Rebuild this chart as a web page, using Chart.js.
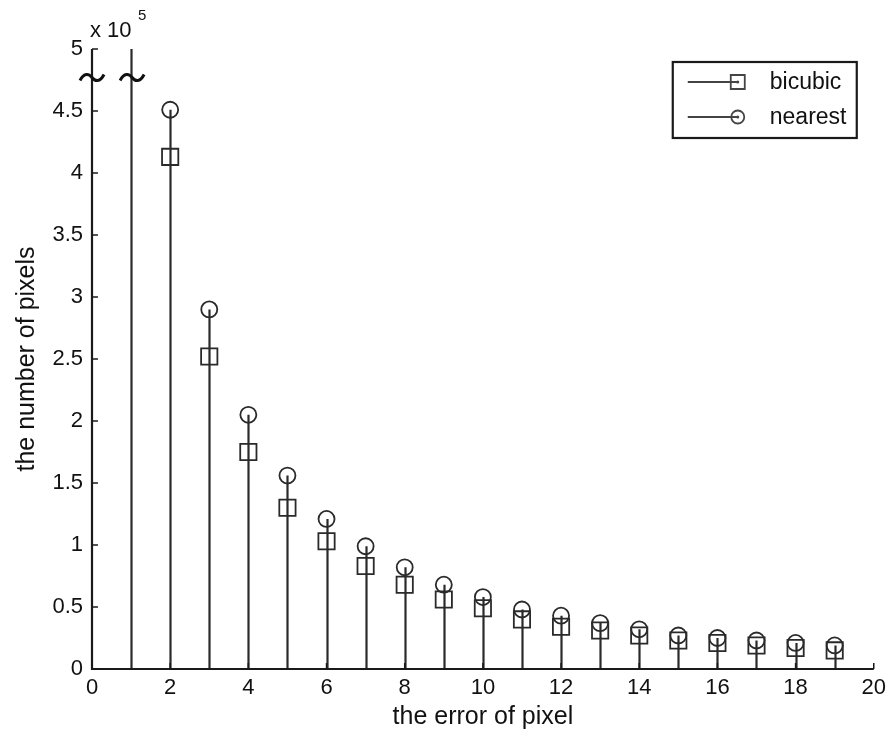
<!DOCTYPE html>
<html>
<head>
<meta charset="utf-8">
<script src="https://cdn.jsdelivr.net/npm/chart.js@4.4.0/dist/chart.umd.min.js"></script>
<style>
  html, body { margin: 0; padding: 0; background: #fff; }
</style>
</head>
<body>
<canvas id="myChart" width="892" height="740"></canvas>
<script>
// error of pixel (x) and pixel counts; x = 1 is off the scale (axis is broken)
const errors = [1, 2, 3, 4, 5, 6, 7, 8, 9, 10, 11, 12, 13, 14, 15, 16, 17, 18, 19];
const bicubic = [700000, 413000, 252000, 175000, 130000, 103000, 83000, 68000, 56000, 49000,
  40000, 34000, 31000, 27000, 23000, 21000, 19000, 17000, 15000];
const nearest = [700000, 451000, 290000, 205000, 156000, 121000, 99000, 82000, 68000, 58000,
  48000, 43000, 37000, 32000, 27000, 25000, 23000, 21000, 19000];
const xTicks = [0, 2, 4, 6, 8, 10, 12, 14, 16, 18, 20];
const yTicks = [0, 50000, 100000, 150000, 200000, 250000, 300000, 350000, 400000, 450000, 500000];
const breakAt = 477000;

const FONT = "'Liberation Sans', Arial, sans-serif";
const INK = '#1a1a1a';

const toPoints = vals => errors.map((e, i) => ({ x: e, y: vals[i] }));

// stems from zero up to the highest marker
const stems = {
  id: 'stems',
  beforeDatasetsDraw(chart) {
    const { ctx, chartArea, scales: { x, y } } = chart;
    ctx.save();
    ctx.beginPath();
    ctx.rect(chartArea.left, chartArea.top, chartArea.right - chartArea.left, chartArea.bottom - chartArea.top);
    ctx.clip();
    ctx.strokeStyle = '#2a2a2a';
    ctx.lineWidth = 2.2;
    errors.forEach((e, i) => {
      const top = Math.min(Math.max(bicubic[i], nearest[i]), y.max);
      const px = Math.round(x.getPixelForValue(e)) + 0.5;
      ctx.beginPath();
      ctx.moveTo(px, y.getPixelForValue(0));
      ctx.lineTo(px, y.getPixelForValue(top));
      ctx.stroke();
    });
    ctx.restore();
  }
};

function tilde(ctx, cx, cy) {
  ctx.beginPath();
  ctx.moveTo(cx - 12, cy + 3);
  ctx.bezierCurveTo(cx - 8, cy - 5, cx - 3, cy - 4, cx, cy);
  ctx.bezierCurveTo(cx + 3, cy + 4, cx + 8, cy + 5, cx + 12, cy - 3);
  ctx.stroke();
}

const decor = {
  id: 'decor',
  afterDraw(chart) {
    const { ctx, chartArea: a, scales: { x, y } } = chart;
    ctx.save();
    ctx.strokeStyle = INK;
    ctx.lineWidth = 2.2;
    // axes
    ctx.beginPath();
    ctx.moveTo(a.left, a.top);
    ctx.lineTo(a.left, a.bottom);
    ctx.lineTo(a.right, a.bottom);
    ctx.stroke();
    // inward ticks
    ctx.lineWidth = 1.5;
    yTicks.forEach(v => {
      const py = y.getPixelForValue(v);
      ctx.beginPath();
      ctx.moveTo(a.left, py);
      ctx.lineTo(a.left + 6, py);
      ctx.stroke();
    });
    xTicks.forEach(v => {
      const px = x.getPixelForValue(v);
      ctx.beginPath();
      ctx.moveTo(px, a.bottom);
      ctx.lineTo(px, a.bottom - 6);
      ctx.stroke();
    });
    // axis break marks
    ctx.lineWidth = 3;
    ctx.strokeStyle = '#111';
    tilde(ctx, x.getPixelForValue(0), y.getPixelForValue(breakAt));
    tilde(ctx, x.getPixelForValue(1) + 1, y.getPixelForValue(breakAt));
    // exponent
    ctx.fillStyle = '#111';
    ctx.textBaseline = 'middle';
    ctx.textAlign = 'left';
    ctx.font = '22px ' + FONT;
    ctx.fillText('x 10', a.left - 2, a.top - 18);
    ctx.font = '15px ' + FONT;
    ctx.fillText('5', a.left + 46, a.top - 33);
    // legend
    const lx = a.right - 201, ly = a.top + 13, lw = 184, lh = 76;
    ctx.fillStyle = '#fff';
    ctx.fillRect(lx, ly, lw, lh);
    ctx.lineWidth = 2.2;
    ctx.strokeStyle = INK;
    ctx.strokeRect(lx, ly, lw, lh);
    const rows = [{ label: 'bicubic', dy: 20, shape: 'rect' }, { label: 'nearest', dy: 55, shape: 'circle' }];
    rows.forEach(r => {
      const ry = ly + r.dy;
      const mx = lx + 65;
      ctx.strokeStyle = '#444';
      ctx.lineWidth = 1.8;
      ctx.beginPath();
      ctx.moveTo(lx + 15, ry);
      ctx.lineTo(mx, ry);
      ctx.stroke();
      ctx.beginPath();
      if (r.shape === 'rect') ctx.rect(mx - 7, ry - 7, 14, 14);
      else ctx.arc(mx, ry, 6.5, 0, Math.PI * 2);
      ctx.stroke();
      ctx.fillStyle = '#444';
      ctx.beginPath();
      ctx.arc(mx, ry, 1.5, 0, Math.PI * 2);
      ctx.fill();
      ctx.fillStyle = '#111';
      ctx.font = '23px ' + FONT;
      ctx.textAlign = 'left';
      ctx.fillText(r.label, lx + 97, ry + 1);
    });
    ctx.restore();
  }
};

const data = {
  datasets: [{
    label: 'bicubic',
    data: toPoints(bicubic),
    pointStyle: 'rect',
    pointRadius: 11.5,
    borderColor: '#2a2a2a',
    backgroundColor: 'rgba(0,0,0,0)',
    borderWidth: 1.8,
    showLine: false
  }, {
    label: 'nearest',
    data: toPoints(nearest),
    pointStyle: 'circle',
    pointRadius: 8,
    borderColor: '#2a2a2a',
    backgroundColor: 'rgba(0,0,0,0)',
    borderWidth: 1.8,
    showLine: false
  }]
};

const config = {
  type: 'scatter',
  data: data,
  options: {
    responsive: false,
    animation: false,
    events: [],
    layout: { padding: { top: 49, right: 17, bottom: 0, left: 0 } },
    scales: {
      x: {
        type: 'linear',
        min: 0,
        max: 20,
        afterBuildTicks: s => { s.ticks = xTicks.map(v => ({ value: v })); },
        afterFit: s => { s.height = 71; },
        grid: { display: false, drawTicks: false },
        border: { display: false },
        ticks: { padding: 6, color: '#111', font: { family: FONT, size: 22 }, maxRotation: 0 },
        title: { display: true, text: 'the error of pixel', color: '#111',
          font: { family: FONT, size: 25 }, padding: { top: 0, bottom: 8 } }
      },
      y: {
        min: 0,
        max: 500000,
        afterBuildTicks: s => { s.ticks = yTicks.map(v => ({ value: v })); },
        afterFit: s => { s.width = 92; },
        grid: { display: false, drawTicks: false },
        border: { display: false },
        ticks: { padding: 9, color: '#111', font: { family: FONT, size: 22 },
          callback: v => String(v / 100000) },
        title: { display: true, text: 'the number of pixels', color: '#111',
          font: { family: FONT, size: 25 }, padding: { top: 12, bottom: 0 } }
      }
    },
    plugins: {
      legend: { display: false },
      tooltip: { enabled: false }
    }
  },
  plugins: [stems, decor]
};

const myChart = new Chart(document.getElementById('myChart'), config);
</script>
</body>
</html>
